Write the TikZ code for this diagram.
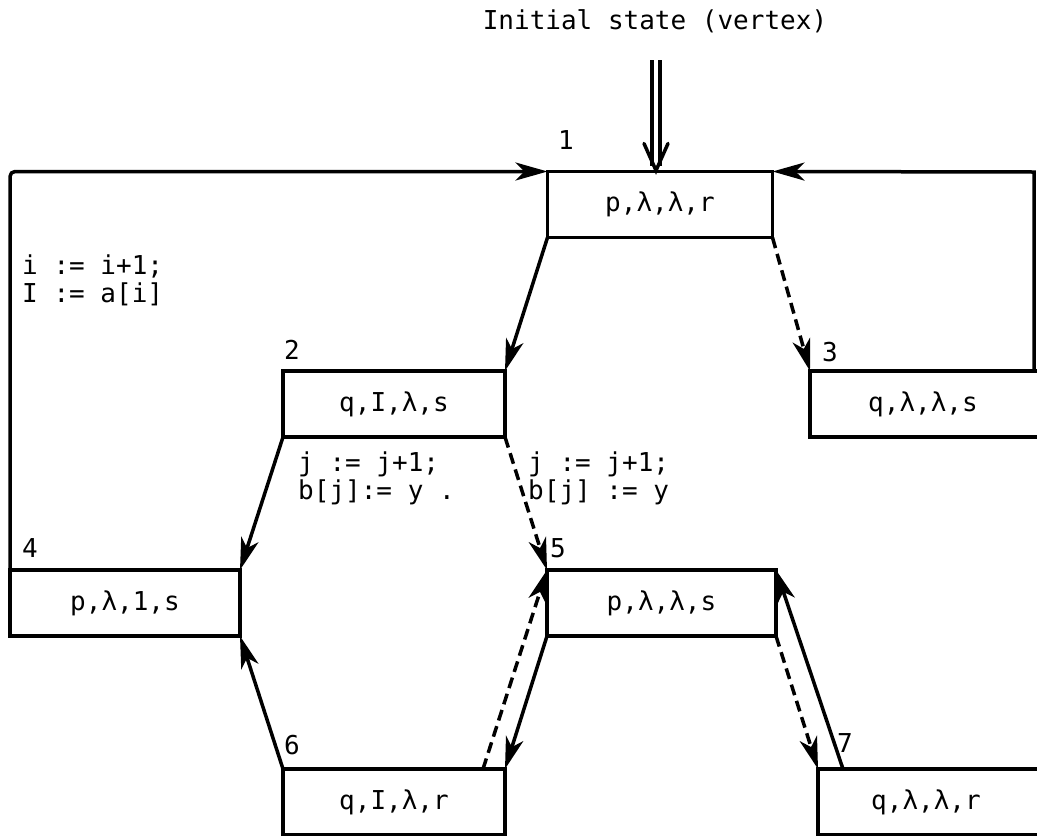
\documentclass[tikz,border=0pt]{standalone}
\usepackage{fontspec}
\setmonofont{DejaVu Sans Mono}
\usetikzlibrary{arrows.meta}
\newcommand{\dfont}{\ttfamily\fontsize{26}{28}\selectfont}
\begin{document}
\begin{tikzpicture}[x=1pt,y=-1pt,
  box/.style={draw, line width=3.5pt, minimum height=66pt, inner sep=0pt, outer sep=0pt, font=\dfont},
  openbox/.style={minimum height=66pt, inner sep=0pt, outer sep=0pt, font=\dfont},
  num/.style={inner sep=0pt, font=\dfont},
  lab/.style={inner sep=0pt, anchor=west, align=left, font=\dfont},
  tip/.style={-{Stealth[length=32pt,width=18pt,inset=9pt]}},
  edge/.style={line width=3.5pt, tip},
  dedge/.style={edge, dash pattern=on 11pt off 6pt},
  wire/.style={line width=3.5pt}]
\useasboundingbox (0,0) rectangle (1037,836);
\clip (0,0) rectangle (1037,836);
% title
\node[font=\dfont, inner sep=0pt] (title) at (655,21) {Initial state (vertex)};
% states
\node[box, minimum width=225pt] (n1) at (660,204.5) {p,λ,λ,r};
\node[box, minimum width=222pt] (n2) at (394,404) {q,I,λ,s};
\node[openbox, minimum width=226pt] (n3) at (923,404) {q,λ,λ,s};
\node[box, minimum width=230pt] (n4) at (125,603) {p,λ,1,s};
\node[box, minimum width=229pt] (n5) at (661.5,603) {p,λ,λ,s};
\node[box, minimum width=222pt] (n6) at (394,802) {q,I,λ,r};
\node[openbox, minimum width=216pt] (n7) at (926,802) {q,λ,λ,r};
\draw[wire] ([xshift=20pt]n3.north east) -- (n3.north west) -- (n3.south west) -- ([xshift=20pt]n3.south east);
\draw[wire] ([xshift=20pt]n7.north east) -- (n7.north west) -- (n7.south west) -- ([xshift=20pt]n7.south east);
% state numbers
\node[num] (k1) at (566,140) {1};
\node[num] (k2) at (292,350) {2};
\node[num] (k3) at (830,352) {3};
\node[num] (k4) at (30,548) {4};
\node[num] (k5) at (558,548) {5};
\node[num] (k6) at (292,745) {6};
\node[num] (k7) at (845,743) {7};
% labels
\node[lab] (la) at (22,280) {i := i+1;\\I := a[i]};
\node[lab] (lb) at (298,478) {j := j+1;\\b[j]:= y .};
\node[lab] (lc) at (528,478) {j := j+1;\\b[j] := y};
% initial arrow
\coordinate (init) at (656,60);
\coordinate (initend) at (init |- n1.north);
\draw[line width=3.5pt] ([xshift=-4pt]init) -- ([xshift=-4pt,yshift=6pt]initend);
\draw[line width=3.5pt] ([xshift=4pt]init) -- ([xshift=4pt,yshift=6pt]initend);
\draw[line width=3.5pt, line join=miter, line cap=round] ([xshift=-12pt,yshift=28pt]initend) -- ([yshift=1pt]initend) -- ([xshift=12pt,yshift=28pt]initend);
% loops
\coordinate (tl) at (n4.north west |- n1.north west);
\draw[wire, rounded corners=5pt, tip] (n4.north west) -- (tl) -- (n1.north west);
\coordinate (r3) at (1034,371);
\coordinate (r1) at (1034,172);
\draw[edge] (r3) -- (r1) -- (n1.north east);
% transitions
\draw[edge] (n1.south west) -- (n2.north east);
\draw[dedge] (n1.south east) -- (n3.north west);
\draw[edge] (n2.south west) -- (n4.north east);
\draw[dedge] (n2.south east) -- (n5.north west);
\draw[edge] (n6.north west) -- (n4.south east);
\draw[dedge] ([xshift=-22pt]n6.north east) -- (n5.north west);
\draw[edge] (n5.south west) -- (n6.north east);
\draw[dedge] (n5.south east) -- (n7.north west);
\draw[edge] ([xshift=25pt]n7.north west) -- (n5.north east);
\end{tikzpicture}
\end{document}
